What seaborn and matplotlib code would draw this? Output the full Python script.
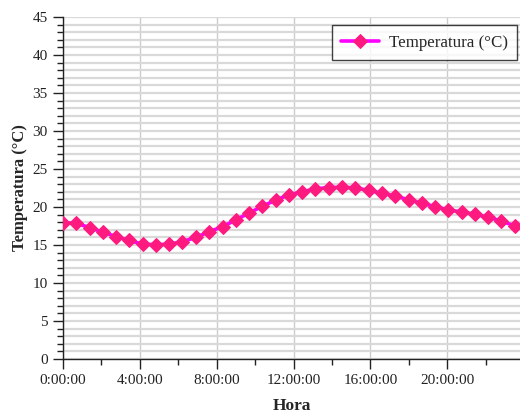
import matplotlib
matplotlib.use("Agg")
import matplotlib.pyplot as plt
from matplotlib.ticker import MultipleLocator, FuncFormatter
import numpy as np
import pandas as pd
import seaborn as sns

# Temperature readings over one day
hora = ["0:00", "0:41", "1:23", "2:04", "2:46", "3:27", "4:09", "4:50", "5:32",
        "6:13", "6:55", "7:36", "8:18", "8:59", "9:41", "10:22", "11:04", "11:45",
        "12:27", "13:08", "13:50", "14:31", "15:13", "15:54", "16:36", "17:17",
        "17:59", "18:40", "19:22", "20:03", "20:45", "21:26", "22:08", "22:49", "23:31"]
temperatura = [17.95, 17.85, 17.3, 16.7, 16.1, 15.6, 15.1, 15.05, 15.1,
               15.45, 16.0, 16.75, 17.4, 18.3, 19.2, 20.1, 20.9, 21.6,
               22.0, 22.4, 22.55, 22.6, 22.5, 22.2, 21.8, 21.45,
               20.95, 20.5, 20.05, 19.6, 19.35, 19.05, 18.65, 18.15, 17.5]

def to_hours(s):
    h, m = s.split(":")
    return int(h) + int(m) / 60.0

df = pd.DataFrame({"Hora": [to_hours(s) for s in hora],
                   "Temperatura (°C)": temperatura})

sns.set_style("white")
plt.rcParams["font.family"] = ["Liberation Serif", "DejaVu Serif"]

fig = plt.figure(figsize=(5.2, 4.13), dpi=100)
ax = fig.add_axes([63 / 520, 54 / 413, (520 - 63) / 520, (359 - 17) / 413])

sns.lineplot(data=df, x="Hora", y="Temperatura (°C)", ax=ax,
             color="#ff00ff", linewidth=2.6, marker="D", markersize=6.8,
             markerfacecolor="#ff1a80", markeredgecolor="#ff1a80",
             label="Temperatura (°C)", zorder=3)

ax.set_xlim(0, 23.78)
ax.set_ylim(0, 45)
ax.xaxis.set_major_locator(MultipleLocator(4))
ax.xaxis.set_minor_locator(MultipleLocator(2))
ax.yaxis.set_major_locator(MultipleLocator(5))
ax.yaxis.set_minor_locator(MultipleLocator(1))
ax.xaxis.set_major_formatter(FuncFormatter(lambda v, p: f"{int(round(v))}:00:00"))

ax.grid(True, which="major", axis="x", color="#cccccc", linewidth=1.0)
ax.grid(True, which="both", axis="y", color="#d9d9d9", linewidth=1.6)
ax.set_axisbelow(True)

for s in ["top", "right"]:
    ax.spines[s].set_visible(False)
for s in ["left", "bottom"]:
    ax.spines[s].set_color("#222222")
    ax.spines[s].set_linewidth(1.0)

ax.tick_params(axis="both", which="major", direction="out", length=7, width=1,
               color="#222222", labelsize=11, labelcolor="#222222", pad=4,
               bottom=True, left=True)
ax.tick_params(axis="both", which="minor", direction="out", length=4, width=1,
               color="#222222", bottom=True, left=True)

ax.set_xlabel("Hora", fontsize=12.5, fontweight="bold", labelpad=8)
ax.set_ylabel("Temperatura (°C)", fontsize=12, fontweight="bold", labelpad=3)

leg = ax.legend(loc="upper right", bbox_to_anchor=(1.012, 1.0), fontsize=12.2,
                frameon=True, fancybox=False, edgecolor="#111111",
                borderpad=0.55, handlelength=2.2, handletextpad=0.6)
leg.get_frame().set_linewidth(1.0)

fig.savefig("out.png", dpi=100)
